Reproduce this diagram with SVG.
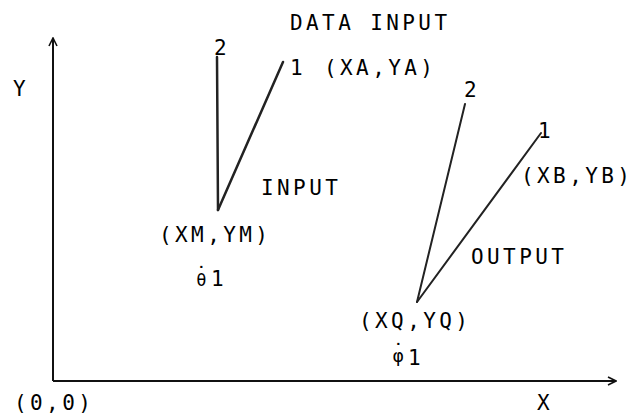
<svg xmlns="http://www.w3.org/2000/svg" width="635" height="417" viewBox="0 0 635 417">
<style>
text{font-family:"DejaVu Sans Mono","Liberation Mono",monospace;font-size:21px;letter-spacing:3.4px;fill:#000}
.ax{stroke:#111;stroke-width:2;fill:none}
.lk{stroke:#222;stroke-width:2.5;fill:none;stroke-linecap:round}
.lk2{stroke:#222;stroke-width:2;fill:none;stroke-linecap:round}
</style>
<defs>
<marker id="arr" viewBox="0 0 10 10" refX="9" refY="5" markerWidth="10" markerHeight="10" markerUnits="userSpaceOnUse" orient="auto">
<path d="M1,1 L9,5 L1,9" fill="none" stroke="#111" stroke-width="1.6"/>
</marker>
</defs>
<rect width="635" height="417" fill="#fff"/>
<g id="connectors">
<path class="ax" d="M53,381 L53,38" marker-end="url(#arr)"/>
<path class="ax" d="M53,381 L616,381" marker-end="url(#arr)"/>
<path class="lk" d="M217,57 L218,210"/>
<path class="lk" d="M218,210 L283,62"/>
<path class="lk2" d="M417,302 L465,104"/>
<path class="lk2" d="M417,302 L541,133"/>
</g>
<g id="axis-labels">
<text x="13" y="96">Y</text>
<text x="537" y="410">X</text>
<text x="14" y="410">(0,0)</text>
</g>
<g id="input-link">
<text x="290" y="30">DATA INPUT</text>
<text x="214" y="55">2</text>
<text x="290" y="75">1</text>
<text x="324" y="75">(XA,YA)</text>
<text x="261" y="195">INPUT</text>
<text x="159" y="242">(XM,YM)</text>
<text x="193" y="286"><tspan font-size="17" dx="2">θ</tspan><tspan dx="-14.8" dy="-4">˙</tspan><tspan dy="4">1</tspan></text>
</g>
<g id="output-link">
<text x="464" y="97">2</text>
<text x="538" y="138">1</text>
<text x="521" y="183">(XB,YB)</text>
<text x="471" y="264">OUTPUT</text>
<text x="359" y="328">(XQ,YQ)</text>
<text x="391" y="365"><tspan font-size="18" dx="1" dy="-3">φ</tspan><tspan dx="-15" dy="-3">˙</tspan><tspan dy="6">1</tspan></text>
</g>
</svg>
